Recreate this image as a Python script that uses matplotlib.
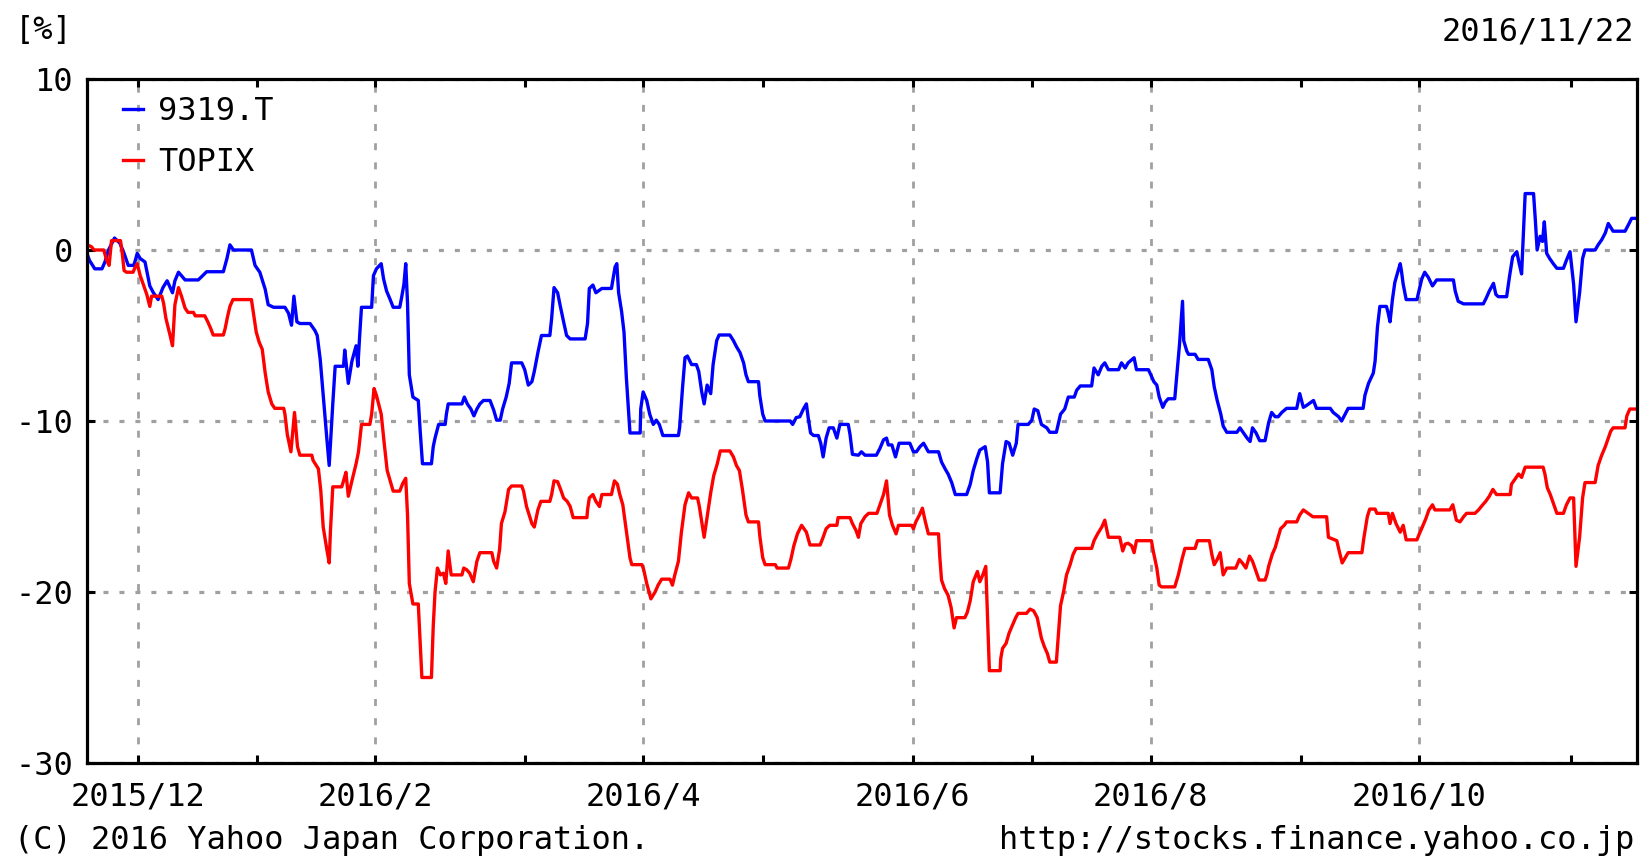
import matplotlib
matplotlib.use("Agg")
import matplotlib.pyplot as plt
from matplotlib.lines import Line2D

plt.rcParams['font.family'] = ['DejaVu Sans Mono']
plt.rcParams['lines.scale_dashes'] = False

# ---- data: x = trading-day index from chart start, y = % change ----
STOCK_9319 = [
    (0, -0.2), (0.4, -0.6), (1.3, -1.1), (2.5, -1.1), (3.0, -0.7), (3.6, 0.0), (4.6, 0.7), (5.5, 0.4),
    (6.2, -0.2), (6.9, -0.9), (7.8, -0.9), (8.0, -0.7), (8.4, -0.2), (8.9, -0.5), (9.7, -0.7), (10.5, -2.1),
    (11.1, -2.5), (11.9, -2.9), (12.7, -2.2), (13.4, -1.8), (14.3, -2.5), (14.7, -1.8), (15.3, -1.3),
    (16.4, -1.75), (18.6, -1.75), (19.2, -1.55), (20.0, -1.27), (22.8, -1.27), (23.4, -0.5), (23.9, 0.3),
    (24.5, 0.0), (27.5, 0.0), (28.1, -0.9), (28.9, -1.3), (29.8, -2.3), (30.3, -3.2), (31.2, -3.35),
    (33.1, -3.35), (33.7, -3.7), (34.2, -4.4), (34.6, -2.7), (35.1, -4.2), (35.6, -4.3), (37.3, -4.3),
    (38.1, -4.7), (38.5, -5.0), (39.0, -6.4), (39.5, -8.5), (40.1, -11.0), (40.5, -12.6), (41.1, -9.0),
    (41.5, -6.8), (42.9, -6.8), (43.1, -5.85), (43.7, -7.8), (44.3, -6.5), (45.0, -5.6), (45.3, -6.8),
    (45.6, -5.0), (45.9, -3.35), (47.6, -3.35), (47.9, -1.5), (48.4, -1.1), (49.2, -0.8), (49.6, -1.7),
    (50.1, -2.4), (50.7, -2.9), (51.2, -3.35), (52.3, -3.35), (52.6, -2.8), (53.0, -2.0), (53.3, -0.8),
    (53.6, -3.1), (53.9, -7.3), (54.5, -8.6), (55.4, -8.8), (55.7, -10.5), (56.1, -12.5), (57.6, -12.5),
    (57.9, -11.5), (58.2, -11.0), (58.8, -10.2), (59.9, -10.2), (60.1, -9.6), (60.4, -9.0), (62.7, -9.0),
    (63.1, -8.6), (63.6, -9.0), (64.2, -9.3), (64.7, -9.7), (65.2, -9.3), (65.7, -9.0), (66.3, -8.8),
    (67.4, -8.8), (68.0, -9.35), (68.5, -9.95), (69.1, -9.95), (69.5, -9.3), (70.1, -8.6), (70.6, -7.8),
    (71.0, -6.6), (72.7, -6.6), (73.2, -7.0), (73.8, -7.9), (74.4, -7.7), (74.8, -7.1), (75.4, -6.0),
    (76.0, -5.0), (77.4, -5.0), (77.7, -4.0), (78.1, -2.2), (78.7, -2.5), (79.1, -3.2), (79.7, -4.2),
    (80.2, -5.0), (80.8, -5.2), (83.3, -5.2), (83.7, -4.3), (84.0, -2.25), (84.6, -2.05), (85.1, -2.5),
    (85.7, -2.35), (86.1, -2.25), (87.7, -2.25), (88.3, -1.0), (88.6, -0.8), (88.9, -2.5), (89.4, -3.6),
    (89.8, -4.8), (90.2, -7.5), (90.8, -10.7), (92.5, -10.7), (92.6, -9.3), (93.0, -8.3), (93.6, -8.8),
    (94.1, -9.6), (94.7, -10.2), (95.2, -9.95), (95.7, -10.2), (96.3, -10.85), (98.9, -10.85), (99.1, -10.4),
    (99.6, -8.0), (100.0, -6.3), (100.4, -6.2), (101.1, -6.7), (101.9, -6.7), (102.3, -7.1), (102.8, -8.3),
    (103.2, -9.0), (103.7, -7.9), (104.3, -8.4), (104.7, -6.7), (105.3, -5.3), (105.7, -4.97), (107.5, -4.97),
    (108.1, -5.3), (108.6, -5.65), (109.2, -6.0), (109.8, -6.6), (110.2, -7.3), (110.6, -7.7), (112.3, -7.7),
    (112.5, -8.5), (113.0, -9.6), (113.4, -10.0), (117.6, -10.0), (118.0, -10.2), (118.6, -9.8),
    (119.2, -9.75), (119.8, -9.3), (120.3, -9.0), (120.6, -9.8), (121.0, -10.7), (121.5, -10.85),
    (122.3, -10.85), (122.7, -11.3), (123.1, -12.1), (123.6, -11.0), (124.1, -10.4), (124.8, -10.4),
    (125.4, -11.0), (125.9, -10.2), (127.3, -10.2), (127.6, -10.8), (128.0, -11.95), (129.0, -12.0),
    (129.5, -11.8), (130.1, -12.0), (132.0, -12.0), (132.6, -11.6), (133.2, -11.1), (133.7, -11.0),
    (134.0, -11.4), (134.6, -11.4), (135.2, -12.1), (135.8, -11.3), (137.6, -11.3), (138.2, -11.8),
    (138.7, -11.8), (139.3, -11.5), (139.9, -11.3), (140.7, -11.8), (142.4, -11.8), (142.9, -12.4),
    (143.5, -12.8), (144.0, -13.1), (144.6, -13.6), (145.2, -14.3), (147.1, -14.3), (147.7, -13.7),
    (148.2, -12.9), (148.8, -12.2), (149.3, -11.7), (150.2, -11.5), (150.6, -12.4), (150.9, -14.2),
    (152.7, -14.2), (153.1, -12.5), (153.7, -11.2), (154.2, -11.3), (154.8, -12.0), (155.4, -11.3),
    (155.7, -10.2), (157.4, -10.2), (158.0, -9.95), (158.4, -9.3), (159.0, -9.4), (159.6, -10.2),
    (160.5, -10.4), (161.0, -10.66), (162.1, -10.66), (162.4, -10.2), (162.8, -9.6), (163.5, -9.3),
    (164.1, -8.6), (165.1, -8.6), (165.5, -8.2), (166.1, -7.95), (168.0, -7.95), (168.4, -6.9),
    (169.1, -7.3), (169.7, -6.8), (170.2, -6.6), (170.8, -7.0), (172.5, -7.0), (173.0, -6.6), (173.6, -6.9),
    (174.1, -6.6), (175.1, -6.3), (175.5, -7.0), (177.5, -7.0), (177.9, -7.3), (178.4, -7.7), (178.9, -7.9),
    (179.3, -8.6), (179.9, -9.2), (180.3, -8.9), (180.8, -8.7), (181.9, -8.7), (182.1, -7.9), (182.7, -5.5),
    (183.2, -3.0), (183.4, -5.3), (183.9, -5.9), (184.2, -6.1), (185.3, -6.1), (185.8, -6.4), (187.5, -6.4),
    (188.1, -7.0), (188.5, -8.0), (189.0, -8.8), (189.6, -9.6), (190.0, -10.3), (190.6, -10.66),
    (192.3, -10.66), (192.8, -10.4), (193.4, -10.7), (194.0, -11.0), (194.5, -11.2), (194.9, -10.4),
    (195.5, -10.7), (196.1, -11.15), (197.0, -11.15), (197.6, -10.1), (198.1, -9.5), (198.7, -9.75),
    (199.2, -9.75), (199.8, -9.5), (200.6, -9.26), (202.3, -9.26), (202.8, -8.4), (203.4, -9.2),
    (203.9, -9.1), (205.1, -8.8), (205.6, -9.26), (207.9, -9.26), (208.4, -9.5), (209.3, -9.75),
    (209.8, -10.0), (210.4, -9.6), (210.9, -9.26), (213.4, -9.26), (213.7, -8.5), (214.3, -7.8),
    (215.1, -7.2), (215.4, -6.5), (215.8, -4.5), (216.2, -3.3), (217.3, -3.3), (217.6, -3.7), (217.9, -4.2),
    (218.3, -2.9), (218.7, -1.9), (219.1, -1.4), (219.6, -0.8), (219.8, -1.2), (220.1, -2.0), (220.6, -2.9),
    (222.4, -2.9), (222.8, -2.3), (223.2, -1.7), (223.7, -1.3), (224.3, -1.6), (225.0, -2.1), (225.7, -1.75),
    (228.5, -1.75), (228.8, -2.4), (229.3, -3.0), (230.2, -3.15), (233.5, -3.15), (234.0, -2.8),
    (234.5, -2.4), (235.2, -1.95), (235.6, -2.6), (236.0, -2.73), (237.4, -2.73), (237.9, -1.5),
    (238.4, -0.4), (239.1, -0.1), (239.5, -0.8), (239.9, -1.4), (240.2, 1.0), (240.5, 3.3), (241.9, 3.3),
    (242.2, 1.75), (242.5, 0.0), (243.0, 0.8), (243.4, 0.5), (243.7, 1.65), (244.1, -0.2), (244.6, -0.5),
    (245.2, -0.8), (245.8, -1.07), (246.9, -1.07), (247.4, -0.6), (248.0, -0.1), (248.6, -2.0),
    (249.0, -4.2), (249.6, -2.5), (250.1, -0.5), (250.5, 0.0), (252.2, 0.0), (252.7, 0.3), (253.3, 0.6),
    (253.9, 1.0), (254.4, 1.55), (255.2, 1.1), (257.2, 1.1), (257.8, 1.5), (258.3, 1.85), (259.0, 1.85),
]

TOPIX = [
    (0, 0.3), (0.7, 0.2), (1.2, 0.0), (2.8, 0.0), (3.3, -0.6), (3.7, -0.9), (4.1, 0.55), (5.6, 0.55),
    (5.9, -0.2), (6.2, -1.2), (6.6, -1.3), (7.7, -1.3), (8.0, -1.05), (8.4, -0.8), (8.9, -1.5), (9.4, -2.0),
    (10.0, -2.6), (10.5, -3.3), (10.8, -2.7), (12.5, -2.7), (12.8, -3.1), (13.2, -4.0), (13.9, -5.0),
    (14.3, -5.6), (14.7, -3.2), (15.3, -2.2), (15.8, -2.7), (16.4, -3.4), (16.9, -3.65), (17.8, -3.65),
    (18.1, -3.85), (19.7, -3.85), (20.2, -4.2), (20.7, -4.6), (21.1, -4.97), (22.8, -4.97), (23.1, -4.6),
    (23.5, -3.9), (23.9, -3.3), (24.4, -2.9), (27.5, -2.9), (27.8, -3.6), (28.3, -4.8), (28.8, -5.4),
    (29.3, -5.8), (29.8, -7.2), (30.3, -8.3), (30.9, -9.0), (31.4, -9.26), (32.9, -9.26), (33.1, -9.6),
    (33.5, -10.8), (34.1, -11.8), (34.7, -9.5), (35.2, -11.5), (35.6, -12.0), (37.6, -12.0), (37.8, -12.3),
    (38.7, -12.8), (39.1, -14.1), (39.5, -16.2), (40.1, -17.5), (40.5, -18.3), (40.7, -16.5),
    (41.1, -13.85), (42.6, -13.85), (42.9, -13.5), (43.3, -13.0), (43.7, -14.4), (44.3, -13.5),
    (45.0, -12.5), (45.4, -11.8), (45.9, -10.2), (47.3, -10.2), (47.6, -9.6), (48.0, -8.1), (48.4, -8.5),
    (49.2, -9.6), (49.7, -11.3), (50.2, -12.9), (50.7, -13.5), (51.2, -14.1), (52.3, -14.1), (52.8, -13.65),
    (53.3, -13.35), (53.6, -15.5), (53.9, -19.5), (54.5, -20.7), (55.4, -20.7), (55.7, -22.8), (56.0, -25.0),
    (57.6, -25.0), (57.9, -22.0), (58.2, -20.0), (58.6, -18.6), (59.1, -19.0), (59.6, -18.9), (60.0, -19.5),
    (60.4, -17.6), (60.9, -19.0), (62.7, -19.0), (63.0, -18.6), (63.5, -18.7), (64.0, -18.9), (64.6, -19.4),
    (65.2, -18.2), (65.7, -17.7), (67.7, -17.7), (68.0, -18.2), (68.5, -18.6), (69.0, -17.5), (69.3, -16.0),
    (69.9, -15.3), (70.5, -14.0), (71.0, -13.8), (72.7, -13.8), (73.0, -14.1), (73.5, -15.0), (74.4, -16.0),
    (74.8, -16.2), (75.4, -15.2), (75.9, -14.7), (77.4, -14.7), (77.7, -14.3), (78.1, -13.5), (78.7, -13.55),
    (79.2, -14.0), (79.7, -14.5), (80.3, -14.7), (80.8, -15.0), (81.3, -15.65), (83.6, -15.65),
    (83.7, -15.2), (84.0, -14.5), (84.6, -14.3), (85.1, -14.7), (85.7, -15.0), (86.1, -14.3), (87.7, -14.3),
    (88.2, -13.5), (88.7, -13.7), (89.1, -14.3), (89.6, -14.9), (90.1, -16.2), (90.8, -18.0), (91.1, -18.4),
    (92.8, -18.4), (93.1, -18.7), (93.6, -19.5), (94.3, -20.4), (95.0, -20.0), (95.5, -19.6), (96.1, -19.25),
    (97.5, -19.25), (97.9, -19.6), (98.3, -19.0), (98.9, -18.2), (99.4, -16.5), (100.0, -14.9),
    (100.6, -14.2), (101.1, -14.5), (102.1, -14.5), (102.4, -15.0), (102.8, -15.9), (103.2, -16.8),
    (103.7, -15.6), (104.3, -14.2), (104.8, -13.2), (105.4, -12.5), (105.9, -11.75), (107.5, -11.75),
    (108.1, -12.1), (108.6, -12.6), (109.1, -12.9), (109.6, -14.0), (110.2, -15.5), (110.6, -15.9),
    (112.3, -15.9), (112.5, -16.7), (113.0, -18.0), (113.4, -18.4), (115.1, -18.4), (115.4, -18.6),
    (117.3, -18.6), (117.7, -18.1), (118.2, -17.3), (118.8, -16.6), (119.5, -16.1), (120.3, -16.5),
    (120.9, -17.25), (122.6, -17.25), (123.1, -16.8), (123.6, -16.3), (124.2, -16.1), (125.4, -16.1),
    (125.6, -15.65), (127.6, -15.65), (128.0, -16.0), (128.6, -16.4), (129.0, -16.8), (129.4, -16.0),
    (130.1, -15.6), (130.7, -15.4), (132.1, -15.4), (132.6, -14.9), (133.2, -14.3), (133.7, -13.5),
    (134.2, -15.5), (134.7, -16.1), (135.3, -16.6), (135.7, -16.1), (137.9, -16.1), (138.2, -16.3),
    (138.6, -15.9), (139.2, -15.5), (139.7, -15.1), (140.2, -15.9), (140.7, -16.6), (142.4, -16.6),
    (142.6, -17.9), (142.9, -19.3), (143.4, -19.8), (144.0, -20.2), (144.5, -20.9), (145.0, -22.1),
    (145.4, -21.5), (146.8, -21.5), (147.2, -21.2), (147.7, -20.5), (148.2, -19.4), (148.9, -18.8),
    (149.3, -19.4), (149.8, -19.0), (150.3, -18.5), (150.9, -24.6), (152.7, -24.6), (152.8, -23.9),
    (153.1, -23.3), (153.7, -23.0), (154.2, -22.4), (154.8, -21.9), (155.3, -21.5), (155.7, -21.25),
    (157.1, -21.25), (157.7, -21.0), (158.3, -21.1), (158.9, -21.5), (159.6, -22.7), (160.1, -23.2),
    (160.6, -23.6), (161.0, -24.1), (162.1, -24.1), (162.4, -22.7), (162.8, -20.8), (163.3, -20.0),
    (163.8, -19.0), (164.4, -18.4), (164.9, -17.8), (165.4, -17.45), (168.0, -17.45), (168.4, -17.0),
    (169.0, -16.6), (169.7, -16.2), (170.2, -15.8), (170.8, -16.8), (172.7, -16.8), (173.2, -17.6),
    (173.6, -17.2), (174.1, -17.15), (174.7, -17.3), (175.1, -17.7), (175.5, -17.0), (178.0, -17.0),
    (178.3, -17.6), (178.9, -18.6), (179.3, -19.6), (179.7, -19.7), (181.9, -19.7), (182.5, -19.0),
    (183.1, -18.1), (183.6, -17.45), (185.3, -17.45), (185.7, -17.0), (187.7, -17.0), (188.1, -17.8),
    (188.5, -18.4), (189.0, -18.1), (189.5, -17.7), (190.0, -19.0), (190.6, -18.6), (192.1, -18.6),
    (192.7, -18.1), (193.2, -18.3), (193.8, -18.6), (194.4, -17.9), (194.9, -18.2), (195.5, -18.8),
    (196.0, -19.3), (197.0, -19.3), (197.3, -19.0), (197.6, -18.5), (198.2, -17.8), (198.7, -17.4),
    (199.2, -16.8), (199.6, -16.3), (200.2, -16.1), (200.6, -15.9), (202.3, -15.9), (202.8, -15.5),
    (203.4, -15.2), (204.2, -15.4), (205.0, -15.6), (207.3, -15.6), (207.6, -16.8), (209.0, -17.0),
    (209.4, -17.6), (209.9, -18.3), (210.4, -18.0), (210.9, -17.7), (213.2, -17.7), (213.5, -16.9),
    (214.1, -15.6), (214.5, -15.15), (215.4, -15.15), (215.7, -15.4), (217.6, -15.4), (217.9, -16.0),
    (218.3, -15.4), (218.9, -16.0), (219.6, -16.5), (220.1, -16.1), (220.6, -16.95), (222.4, -16.95),
    (222.8, -16.6), (223.3, -16.2), (223.9, -15.7), (224.4, -15.2), (225.0, -14.9), (225.4, -15.2),
    (227.9, -15.2), (228.4, -14.9), (229.0, -15.8), (229.6, -15.9), (230.2, -15.6), (230.7, -15.4),
    (232.1, -15.4), (232.7, -15.2), (233.4, -14.9), (233.9, -14.7), (234.5, -14.4), (235.1, -14.0),
    (235.7, -14.3), (238.0, -14.3), (238.2, -13.7), (238.8, -13.4), (239.4, -13.1), (239.9, -13.3),
    (240.5, -12.7), (243.5, -12.7), (243.8, -13.1), (244.2, -13.9), (244.7, -14.3), (245.2, -14.8),
    (245.8, -15.4), (246.9, -15.4), (247.4, -14.9), (248.0, -14.5), (248.6, -14.5), (249.0, -18.5),
    (249.6, -16.8), (250.1, -14.5), (250.5, -13.6), (252.2, -13.6), (252.7, -12.6), (253.3, -12.0),
    (253.9, -11.5), (254.4, -11.0), (254.8, -10.6), (255.2, -10.4), (257.2, -10.4), (257.5, -9.7),
    (258.0, -9.3), (259.0, -9.3),
]

stock_day = [d for d, _ in STOCK_9319]
stock_pct = [v for _, v in STOCK_9319]
topix_day = [d for d, _ in TOPIX]
topix_pct = [v for _, v in TOPIX]

series_names = ['9319.T', 'TOPIX']
series_colors = ['#0000ff', '#ff0000']

# month ticks (trading-day index of first session of each month)
month_pos = [8.5, 28.4, 48.2, 73.2, 93.0, 113.0, 138.1, 158.0, 177.9, 203.0, 222.8, 248.2]
month_lbl = ['2015/12', '', '2016/2', '', '2016/4', '', '2016/6', '', '2016/8', '', '2016/10', '']
y_ticks = [-30, -20, -10, 0, 10]
x_end = 259.2

FS = 23
W, H = 1646, 865
fig = plt.figure(figsize=(W / 100, H / 100), dpi=100)
ax = fig.add_axes([87 / W, 1 - 763 / H, 1550 / W, 684 / H])

ax.plot(stock_day, stock_pct, color=series_colors[0], lw=2.4, zorder=3)
ax.plot(topix_day, topix_pct, color=series_colors[1], lw=2.4, zorder=3)

ax.set_xlim(0, x_end)
ax.set_ylim(-30, 10)

major_pos = [p for p, l in zip(month_pos, month_lbl) if l]
major_lbl = [l for l in month_lbl if l]
minor_pos = [p for p, l in zip(month_pos, month_lbl) if not l]
ax.set_xticks(major_pos)
ax.set_xticklabels(major_lbl)
ax.set_xticks(minor_pos, minor=True)
ax.set_yticks(y_ticks)
ax.set_yticklabels([str(t) for t in y_ticks])

ax.tick_params(which='both', direction='in', length=5.8, width=2.2, color='black',
               top=True, right=True, labelsize=FS)
ax.tick_params(axis='y', pad=10)
ax.tick_params(axis='x', pad=13.5)

for s in ax.spines.values():
    s.set_linewidth(2.3)
    s.set_color('black')
    s.set_zorder(4)

ax.xaxis.grid(True, which='major', color='#a0a0a0', linewidth=2.0, linestyle=(0, (5.0, 8.8)))
ax.yaxis.grid(True, which='major', color='#a0a0a0', linewidth=2.3, linestyle=(0, (3.6, 7.9)))
ax.set_axisbelow(True)

handles = [Line2D([], [], color=c, lw=2.4) for c in series_colors]
ax.legend(handles, series_names, loc='upper left', bbox_to_anchor=(0.0232, 0.975),
          frameon=False, fontsize=FS, handlelength=0.62, handletextpad=0.47,
          labelspacing=0.62, borderpad=0, borderaxespad=0)

fig.text(15 / W, 1 - 30 / H, '[%]', fontsize=FS, ha='left', va='center')
fig.text(1634 / W, 1 - 32 / H, '2016/11/22', fontsize=FS, ha='right', va='center')
fig.text(14 / W, 1 - 841 / H, '(C) 2016 Yahoo Japan Corporation.', fontsize=FS, ha='left', va='center')
fig.text(1634 / W, 1 - 841 / H, 'http://stocks.finance.yahoo.co.jp', fontsize=FS, ha='right', va='center')

fig.savefig('out.png', dpi=100, facecolor='white')
